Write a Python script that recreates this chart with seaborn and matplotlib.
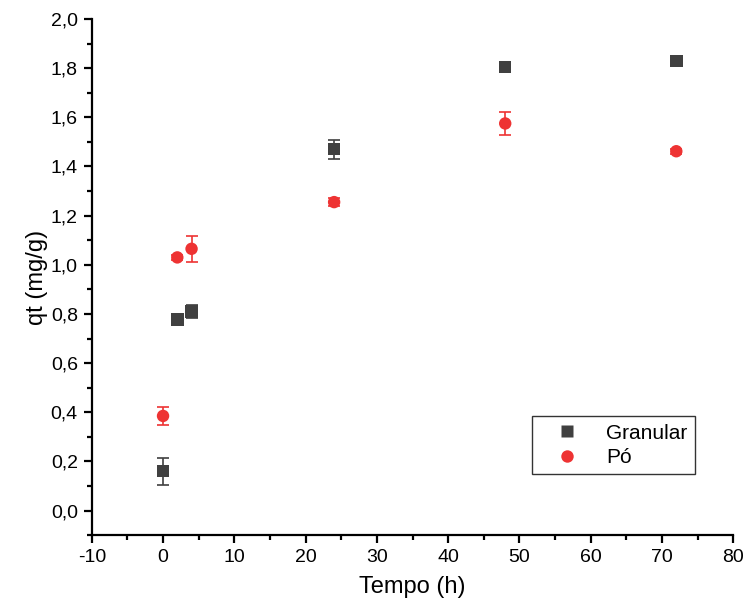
import matplotlib
matplotlib.use("Agg")
import matplotlib.pyplot as plt
import matplotlib.ticker as mticker
import numpy as np
import pandas as pd
import seaborn as sb

# dados
tempo = [0, 2, 4, 24, 48, 72]
qt_granular = [0.16, 0.778, 0.81, 1.47, 1.805, 1.83]
err_granular = [0.055, 0.008, 0.028, 0.038, 0.012, 0.008]
qt_po = [0.385, 1.03, 1.065, 1.255, 1.575, 1.462]
err_po = [0.035, 0.01, 0.052, 0.015, 0.045, 0.01]

df = pd.DataFrame({
    "Tempo": tempo * 2,
    "qt": qt_granular + qt_po,
    "err": err_granular + err_po,
    "Amostra": ["Granular"] * len(tempo) + ["Pó"] * len(tempo),
})

sb.set_style("ticks")
plt.rcParams["font.family"] = ["Liberation Sans", "DejaVu Sans"]
plt.rcParams["axes.unicode_minus"] = False
plt.rcParams["text.color"] = "black"
plt.rcParams["axes.labelcolor"] = "black"

cores = {"Granular": "#404040", "Pó": "#ee3333"}
marcas = {"Granular": "s", "Pó": "o"}

fig = plt.figure(figsize=(7.46, 6.13), dpi=100)
ax = fig.add_axes([0.123, 0.127, 0.86, 0.842])

for nome, g in df.groupby("Amostra", sort=False):
    ax.errorbar(g["Tempo"], g["qt"], yerr=g["err"], fmt="none",
                ecolor=cores[nome], elinewidth=1.2, capsize=4, capthick=1.2, zorder=2)

sb.scatterplot(data=df, x="Tempo", y="qt", hue="Amostra", style="Amostra",
               palette=cores, markers=marcas, s=80, edgecolor="none",
               ax=ax, zorder=3)

ax.set_xlim(-10, 80)
ax.set_ylim(-0.1, 2.0)
ax.xaxis.set_major_locator(mticker.MultipleLocator(10))
ax.xaxis.set_minor_locator(mticker.MultipleLocator(5))
ax.yaxis.set_major_locator(mticker.MultipleLocator(0.2))
ax.yaxis.set_minor_locator(mticker.MultipleLocator(0.1))
ax.yaxis.set_major_formatter(mticker.FuncFormatter(lambda v, p: f"{v:.1f}".replace(".", ",")))

sb.despine(ax=ax)
for s in ["left", "bottom"]:
    ax.spines[s].set_linewidth(1.6)
    ax.spines[s].set_color("black")
ax.tick_params(which="major", direction="out", length=6, width=1.6, labelsize=14,
               colors="black", pad=4)
ax.tick_params(which="minor", direction="out", length=3.5, width=1.6, colors="black")

ax.set_xlabel("Tempo (h)", fontsize=17, labelpad=7)
ax.set_ylabel("qt (mg/g)", fontsize=17, labelpad=2)

leg = ax.legend(title=None, loc="lower right", bbox_to_anchor=(0.94, 0.118),
                fontsize=15, frameon=True, fancybox=False, edgecolor="black",
                handletextpad=0.6, handlelength=2.6, borderpad=0.35,
                labelspacing=0.25, borderaxespad=0)
leg.get_frame().set_linewidth(1.0)
for t in leg.get_texts():
    t.set_color("black")

plt.savefig("out.png", dpi=100)
